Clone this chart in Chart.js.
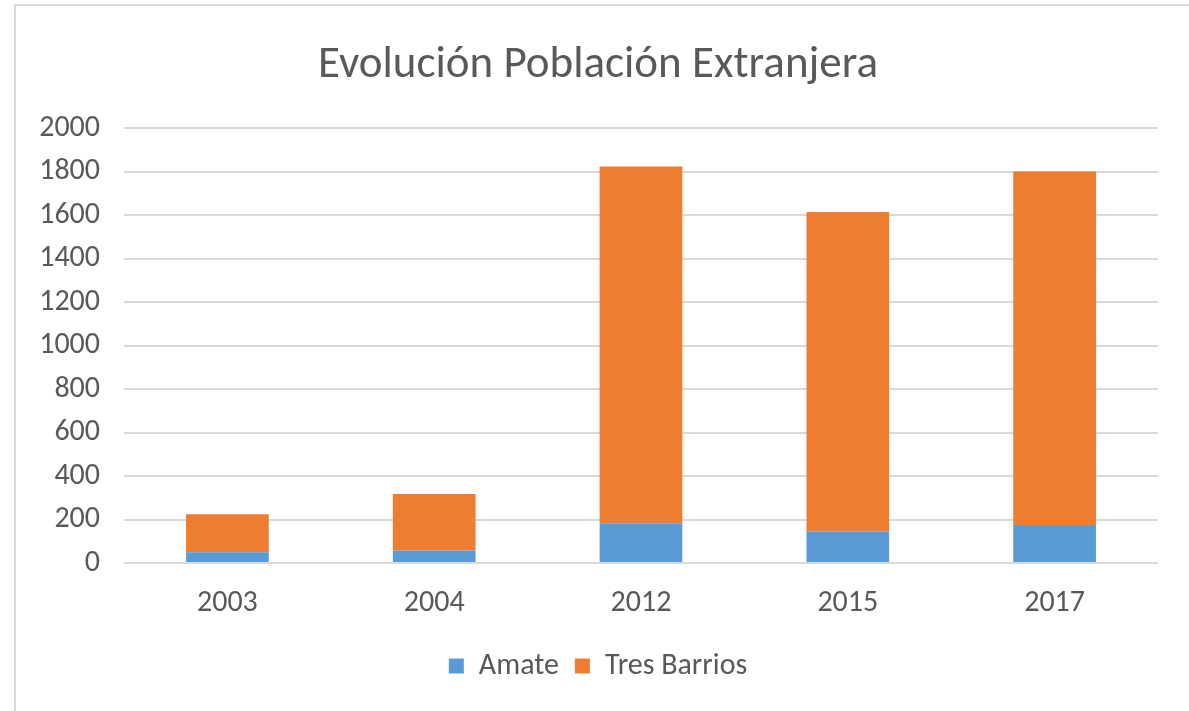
<!DOCTYPE html>
<html>
<head>
<meta charset="utf-8">
<script src="https://cdn.jsdelivr.net/npm/chart.js@4"></script>
<style>
  body { margin: 0; background: #fff; overflow: hidden; }
  .marco { position: absolute; left: 14px; top: 4px; width: 1200px; height: 720px; border: 2px solid #d9d9d9; }
  .caja { position: absolute; left: 0; top: 0; width: 1189px; height: 711px; }
</style>
</head>
<body>
<div class="marco"></div>
<div class="caja"><canvas id="myChart" width="1189" height="711"></canvas></div>
<script>
// datos
const anios = ['2003', '2004', '2012', '2015', '2017'];
const amate = [50, 58, 183, 145, 175];
const tresBarrios = [174, 259, 1640, 1469, 1625];

const fuente = "'Carlito', 'Open Sans', sans-serif";
const gris = '#595959';

const ctx = document.getElementById('myChart').getContext('2d');

const myChart = new Chart(ctx, {
    type: 'bar',
    data: {
        labels: anios,
        datasets: [{
            label: 'Amate',
            data: amate,
            backgroundColor: '#5B9BD5',
            borderWidth: 0
        }, {
            label: 'Tres Barrios',
            data: tresBarrios,
            backgroundColor: '#ED7D31',
            borderWidth: 0
        }]
    },
    options: {
        responsive: false,
        animation: false,
        categoryPercentage: 1,
        barPercentage: 0.4,
        layout: {
            padding: { left: 38, right: 31, top: 39, bottom: 20 }
        },
        plugins: {
            title: {
                display: true,
                text: 'Evolución Población Extranjera',
                color: gris,
                font: { family: fuente, size: 45, weight: 'normal' },
                padding: { top: 0, bottom: 35 }
            },
            legend: {
                position: 'bottom',
                labels: {
                    color: gris,
                    font: { family: fuente, size: 30 },
                    boxWidth: 15,
                    boxHeight: 15,
                    padding: 16
                }
            },
            tooltip: { enabled: false }
        },
        scales: {
            x: {
                stacked: true,
                grid: { display: false },
                border: { display: false },
                ticks: { color: gris, font: { family: fuente, size: 30 }, padding: 14 }
            },
            y: {
                stacked: true,
                min: 0,
                max: 2000,
                border: { display: false },
                grid: { color: '#d9d9d9', lineWidth: 2, drawTicks: false },
                afterFit: (scale) => { scale.width = 86; },
                ticks: {
                    stepSize: 200,
                    color: gris,
                    font: { family: fuente, size: 30 },
                    padding: 24,
                    callback: (v) => String(v)
                }
            }
        }
    }
});
</script>
</body>
</html>
